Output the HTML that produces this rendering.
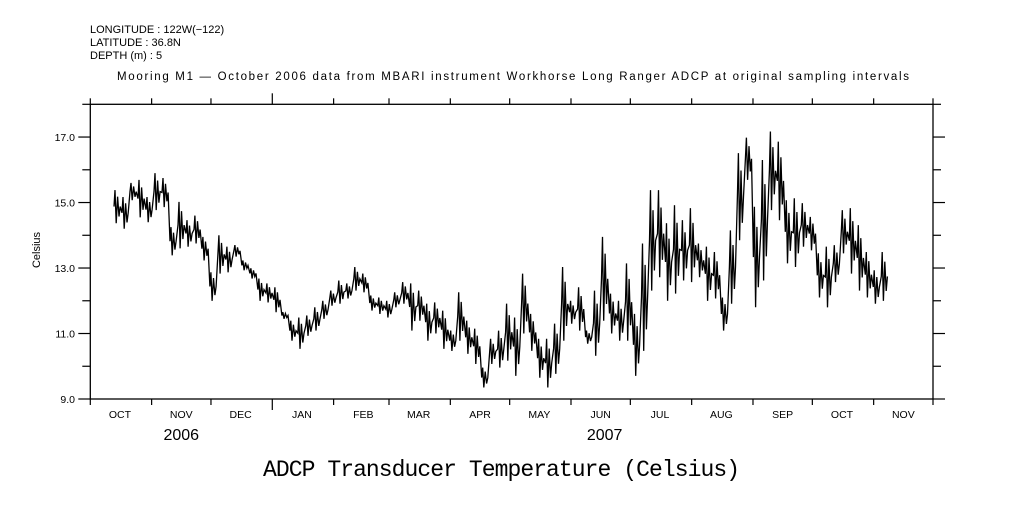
<!DOCTYPE html>
<html><head><meta charset="utf-8"><style>
body{margin:0;background:#fff;width:1009px;height:504px;overflow:hidden}
svg text{font-family:"Liberation Sans",sans-serif;fill:#000}
</style></head><body>
<svg id="chart" width="1009" height="504" viewBox="0 0 1009 504" xmlns="http://www.w3.org/2000/svg">
<text x="90" y="33" font-size="11">LONGITUDE : 122W(−122)</text>
<text x="90" y="46" font-size="11">LATITUDE : 36.8N</text>
<text x="90" y="59" font-size="11">DEPTH (m) : 5</text>
<text x="117" y="80" font-size="11.5" textLength="792">Mooring M1 — October 2006 data from MBARI instrument Workhorse Long Ranger ADCP at original sampling intervals</text>
<text x="0" y="0" font-size="11" transform="translate(40,250) rotate(-90)" text-anchor="middle">Celsius</text>
<text x="263" y="476" font-size="23" textLength="477" style="font-family:'Liberation Mono',monospace">ADCP Transducer Temperature (Celsius)</text>
<g id="axes"></g>
<g id="plot"></g>
</svg>
<script>
const monthLabels=["OCT","NOV","DEC","JAN","FEB","MAR","APR","MAY","JUN","JUL","AUG","SEP","OCT","NOV"];
const monthDays=[31,30,31,31,28,31,30,31,30,31,31,30,31,30];
const yearLabels=["2006","2007"];
const yTickLabels=["9.0","11.0","13.0","15.0","17.0"];
const hiVals=[15.38,15.17,15.6,15.69,15.17,15.9,15.75,14.25,15.02,14.46,14.6,13.95,12.87,14.0,13.65,13.7,13.23,12.99,12.68,12.53,12.41,11.65,11.39,11.49,11.55,11.8,12.0,12.31,12.62,12.53,13.03,12.83,12.16,
12.1,12.0,12.26,12.57,12.53,12.31,11.91,11.95,11.7,11.09,12.26,11.39,11.15,9.96,10.84,11.09,11.91,11.49,12.83,11.6,10.84,10.84,11.3,13.03,12.0,12.41,11.09,12.31,13.95,12.22,12.0,13.14,11.6,13.75,15.38,
15.38,14.37,14.92,14.46,14.83,13.75,13.65,13.49,12.1,14.15,16.51,16.98,14.87,16.3,17.17,16.86,15.07,15.13,14.98,14.56,13.45,13.65,13.7,14.77,14.83,14.31,13.49,12.93,13.49];
const loVals=[14.37,14.2,15.07,14.55,14.4,14.77,14.86,13.39,13.6,13.65,13.75,13.23,12.0,12.83,12.87,13.35,12.93,12.68,12.0,11.95,11.65,11.45,10.78,10.53,10.93,11.09,11.45,11.85,11.91,12.07,12.31,12.26,11.7,
11.6,11.49,11.8,11.91,11.09,11.39,10.78,11.0,10.53,10.47,10.78,10.38,10.07,9.35,10.07,9.96,10.17,9.71,11.0,10.47,9.65,9.35,9.77,10.78,11.3,11.09,10.69,10.32,11.39,11.0,10.78,10.78,9.71,10.47,12.31,
12.72,12.0,12.22,12.62,12.57,12.72,12.0,12.07,11.09,11.91,13.85,15.69,11.8,12.62,14.77,14.46,13.14,13.03,13.65,13.54,12.1,11.8,12.57,13.45,12.83,12.31,12.1,11.91,12.0];
const startDay=11.5, binDays=4.04, totalDays=426;
const X0=90.3,X1=933,Y0=399,Y1=104.3,yMin=9,yMax=18;
const xs=d=>X0+(X1-X0)*d/totalDays;
const ys=v=>Y0-(Y0-Y1)*(v-yMin)/(yMax-yMin);
const NS="http://www.w3.org/2000/svg";
const axes=document.getElementById('axes'),plot=document.getElementById('plot');
function mk(tag,attrs,parent){const e=document.createElementNS(NS,tag);for(const k in attrs)e.setAttribute(k,attrs[k]);parent.appendChild(e);return e;}
const frame=mk('rect',{x:X0,y:Y1,width:X1-X0,height:Y0-Y1,fill:'none',stroke:'#000','stroke-width':1.3},axes);


let d=0;
for(let i=0;i<=monthDays.length;i++){
  const x=xs(d);const isYear=(i===3);const len=isYear?11:6;
  const t1=mk('line',{x1:x,x2:x,y1:Y0,y2:Y0+len,stroke:'#000','stroke-width':1.2},axes);
  
  
  const t2=mk('line',{x1:x,x2:x,y1:Y1,y2:Y1-len,stroke:'#000','stroke-width':1.2},axes);
  
  
  if(i<monthDays.length){
    const lb=mk('text',{x:xs(d+15),y:418,'font-size':10.5,'text-anchor':'middle'},axes);
    lb.textContent=monthLabels[i];
    
    
    d+=monthDays[i];
  }
}
const yl1=mk('text',{x:xs(46),y:440,'font-size':16,'text-anchor':'middle'},axes);yl1.textContent=yearLabels[0];


const yl2=mk('text',{x:xs(260),y:440,'font-size':16,'text-anchor':'middle'},axes);yl2.textContent=yearLabels[1];


for(let v=9;v<=18;v++){
  const y=ys(v);const major=(v%2===1);const len=major?12:8;
  const a=mk('line',{x1:X0-len,x2:X0,y1:y,y2:y,stroke:'#000','stroke-width':1.2},axes);
  
  
  const b=mk('line',{x1:X1,x2:X1+len,y1:y,y2:y,stroke:'#000','stroke-width':1.2},axes);
  
  
}
yTickLabels.forEach(s=>{const t=mk('text',{x:75,y:ys(parseFloat(s))+4,'font-size':10.5,'text-anchor':'end'},axes);t.textContent=s;
  
  });
let pts=[];
for(let i=0;i<hiVals.length;i++){
  const dd=startDay+i*binDays;
  const h=hiVals[i],l=loVals[i],m=(h+l)/2;
  pts.push([xs(dd+0.5),ys(m)],[xs(dd+1),ys(h)],[xs(dd+1.6),ys(l)],[xs(dd+2.3),ys(m+(h-m)*0.6)],[xs(dd+3),ys(l+(m-l)*0.4)],[xs(dd+3.6),ys(m)]);
}
const line=mk('polyline',{points:pts.map(p=>p[0].toFixed(1)+','+p[1].toFixed(1)).join(' '),fill:'none',stroke:'#000','stroke-width':1.3,'stroke-linejoin':'miter'},plot);


</script>
</body></html>
